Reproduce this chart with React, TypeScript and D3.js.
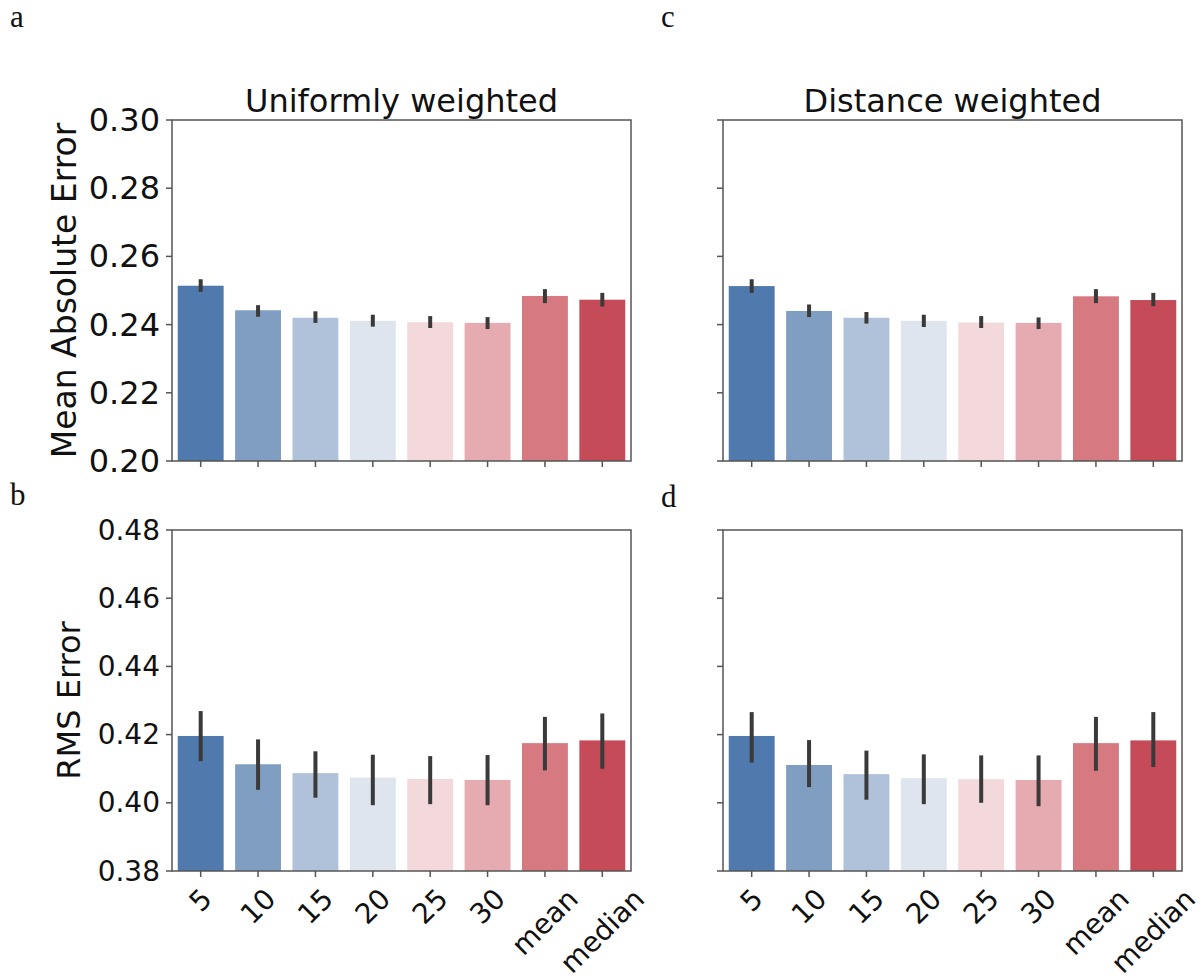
import React from 'react';
import * as d3 from 'd3';

// ---- data ----
const categories = ['5', '10', '15', '20', '25', '30', 'mean', 'median'];
const barColors = ['#507aad', '#7f9ec2', '#afc2da', '#dee5ef', '#f3d8dc', '#e5abb0', '#d67980', '#c54b58'];

// a: MAE, uniformly weighted
const maeUniform = [0.2514, 0.2442, 0.2420, 0.2411, 0.2407, 0.2405, 0.2484, 0.2473];
const maeUniformLo = [0.2496, 0.2423, 0.2405, 0.2394, 0.2390, 0.2387, 0.2463, 0.2453];
const maeUniformHi = [0.2533, 0.2457, 0.2439, 0.2429, 0.2425, 0.2422, 0.2504, 0.2493];

// c: MAE, distance weighted
const maeDistance = [0.2513, 0.2440, 0.2420, 0.2411, 0.2406, 0.2405, 0.2483, 0.2472];
const maeDistanceLo = [0.2493, 0.2422, 0.2403, 0.2393, 0.2390, 0.2387, 0.2463, 0.2454];
const maeDistanceHi = [0.2533, 0.2459, 0.2437, 0.2429, 0.2425, 0.2421, 0.2504, 0.2493];

// b: RMS, uniformly weighted
const rmsUniform = [0.4196, 0.4113, 0.4087, 0.4074, 0.4070, 0.4067, 0.4175, 0.4183];
const rmsUniformLo = [0.4122, 0.4038, 0.4015, 0.3993, 0.3996, 0.3993, 0.4095, 0.4100];
const rmsUniformHi = [0.4269, 0.4186, 0.4151, 0.4141, 0.4137, 0.4140, 0.4252, 0.4262];

// d: RMS, distance weighted
const rmsDistance = [0.4196, 0.4111, 0.4084, 0.4072, 0.4069, 0.4067, 0.4175, 0.4183];
const rmsDistanceLo = [0.4118, 0.4046, 0.4009, 0.3996, 0.4000, 0.3990, 0.4094, 0.4105];
const rmsDistanceHi = [0.4266, 0.4184, 0.4153, 0.4142, 0.4139, 0.4139, 0.4252, 0.4266];

const maeTicks = [0.20, 0.22, 0.24, 0.26, 0.28, 0.30];
const rmsTicks = [0.38, 0.40, 0.42, 0.44, 0.46, 0.48];

const FONT = '"DejaVu Sans", sans-serif';
const SPINE = '#555555';

function textWidth(txt: string, size: number) {
  const ctx = document.createElement('canvas').getContext('2d');
  if (!ctx) return txt.length * size * 0.6;
  ctx.font = size + 'px "DejaVu Sans"';
  return ctx.measureText(txt).width;
}

type PanelProps = {
  x0: number; x1: number; y0: number; y1: number;
  domain: number[]; ticks: number[];
  values: number[]; lo: number[]; hi: number[];
  showYLabels: boolean; showXLabels: boolean; tickSize: number;
};

function Panel(p: PanelProps) {
  const x = d3.scaleBand().domain(categories).range([p.x0, p.x1]).paddingInner(0.2).paddingOuter(0.1);
  const y = d3.scaleLinear().domain(p.domain).range([p.y1, p.y0]);
  const fmt = d3.format('.2f');
  const tl = 6;
  return (
    <g>
      {categories.map((c, i) => (
        <rect key={c} x={x(c)} y={y(p.values[i])} width={x.bandwidth()}
          height={y(p.domain[0]) - y(p.values[i])} fill={barColors[i]} />
      ))}
      {categories.map((c, i) => (
        <line key={'e' + c} x1={x(c)! + x.bandwidth() / 2} x2={x(c)! + x.bandwidth() / 2}
          y1={y(p.lo[i])} y2={y(p.hi[i])} stroke="#3a3a3a" strokeWidth={4} />
      ))}
      <rect x={p.x0} y={p.y0} width={p.x1 - p.x0} height={p.y1 - p.y0} fill="none" stroke={SPINE} strokeWidth={1.5} />
      {p.ticks.map(t => (
        <g key={t}>
          <line x1={p.x0 - tl} x2={p.x0} y1={y(t)} y2={y(t)} stroke={SPINE} strokeWidth={1.5} />
          {p.showYLabels && (
            <text x={p.x0 - 12} y={y(t)} textAnchor="end" dominantBaseline="central"
              fontFamily={FONT} fontSize={p.tickSize} fill="#111">{fmt(t)}</text>
          )}
        </g>
      ))}
      {categories.map(c => {
        const cx = x(c)! + x.bandwidth() / 2;
        const w = textWidth(c, p.tickSize);
        const h = p.tickSize * 0.9;
        const off = (w + h) * Math.SQRT1_2 / 2;
        return (
          <g key={'x' + c}>
            <line x1={cx} x2={cx} y1={p.y1} y2={p.y1 + tl} stroke={SPINE} strokeWidth={1.5} />
            {p.showXLabels && (
              <text transform={`translate(${cx},${p.y1 + tl + 8 + off}) rotate(-45)`}
                textAnchor="middle" dominantBaseline="central"
                fontFamily={FONT} fontSize={p.tickSize} fill="#111">{c}</text>
            )}
          </g>
        );
      })}
    </g>
  );
}

export default function App() {
  const ax = [172, 631];
  const cx = [723, 1182];
  const top = [120, 461];
  const bot = [530, 871];
  return (
    <svg width={1204} height={979} style={{ position: 'absolute', left: 0, top: 0, background: '#fff' }}>
      <text x={10} y={27} fontFamily='"Liberation Serif", serif' fontSize={31} fill="#111">a</text>
      <text x={10} y={505} fontFamily='"Liberation Serif", serif' fontSize={31} fill="#111">b</text>
      <text x={661} y={27} fontFamily='"Liberation Serif", serif' fontSize={31} fill="#111">c</text>
      <text x={661} y={507} fontFamily='"Liberation Serif", serif' fontSize={31} fill="#111">d</text>

      <text x={(ax[0] + ax[1]) / 2} y={112} textAnchor="middle" fontFamily={FONT} fontSize={32} fill="#111">Uniformly weighted</text>
      <text x={(cx[0] + cx[1]) / 2} y={112} textAnchor="middle" fontFamily={FONT} fontSize={32} fill="#111">Distance weighted</text>

      <text transform={`translate(76,${(top[0] + top[1]) / 2}) rotate(-90)`} textAnchor="middle"
        fontFamily={FONT} fontSize={33} fill="#111">Mean Absolute Error</text>
      <text transform={`translate(80,${(bot[0] + bot[1]) / 2}) rotate(-90)`} textAnchor="middle"
        fontFamily={FONT} fontSize={32} fill="#111">RMS Error</text>

      <Panel x0={ax[0]} x1={ax[1]} y0={top[0]} y1={top[1]} domain={[0.2, 0.3]} ticks={maeTicks}
        values={maeUniform} lo={maeUniformLo} hi={maeUniformHi} showYLabels showXLabels={false} tickSize={32} />
      <Panel x0={cx[0]} x1={cx[1]} y0={top[0]} y1={top[1]} domain={[0.2, 0.3]} ticks={maeTicks}
        values={maeDistance} lo={maeDistanceLo} hi={maeDistanceHi} showYLabels={false} showXLabels={false} tickSize={32} />
      <Panel x0={ax[0]} x1={ax[1]} y0={bot[0]} y1={bot[1]} domain={[0.38, 0.48]} ticks={rmsTicks}
        values={rmsUniform} lo={rmsUniformLo} hi={rmsUniformHi} showYLabels showXLabels tickSize={28} />
      <Panel x0={cx[0]} x1={cx[1]} y0={bot[0]} y1={bot[1]} domain={[0.38, 0.48]} ticks={rmsTicks}
        values={rmsDistance} lo={rmsDistanceLo} hi={rmsDistanceHi} showYLabels={false} showXLabels tickSize={28} />
    </svg>
  );
}
